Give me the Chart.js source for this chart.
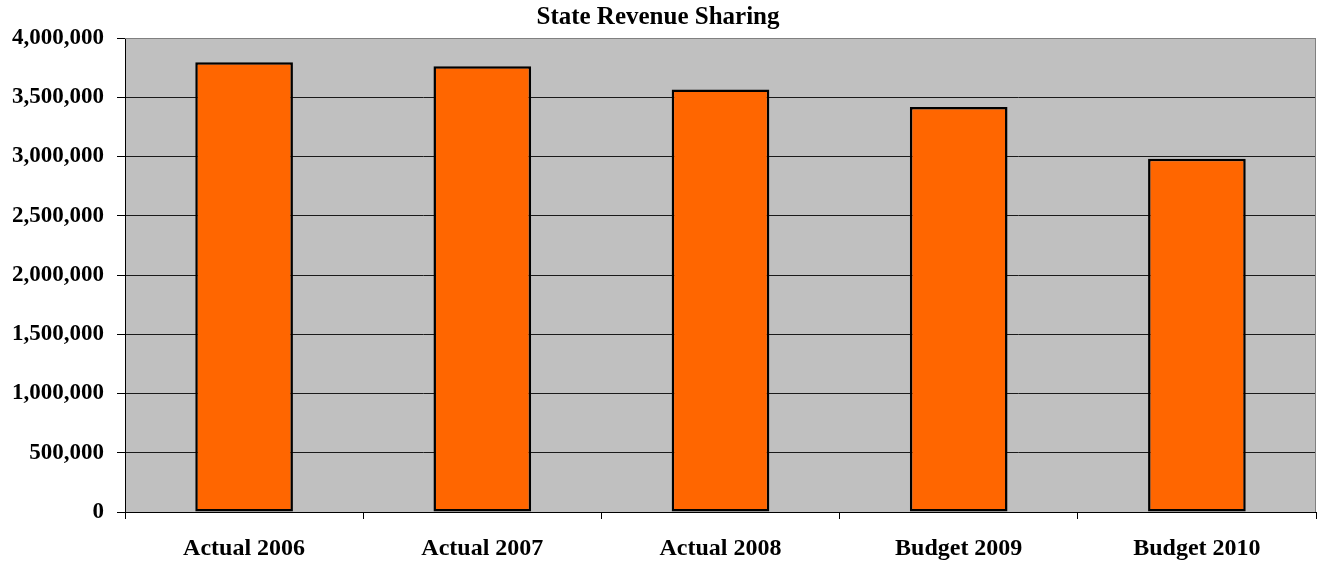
<!DOCTYPE html>
<html>
<head>
<meta charset="utf-8">
<script src="https://cdn.jsdelivr.net/npm/chart.js@4"></script>
<style>
  html, body { margin: 0; padding: 0; background: #fff; }
  #wrap { width: 1317px; height: 563px; }
</style>
</head>
<body>
<div id="wrap"><canvas id="chart" width="1317" height="563"></canvas></div>
<script>
const categories = ["Actual 2006", "Actual 2007", "Actual 2008", "Budget 2009", "Budget 2010"];
const revenue = [3795000, 3761000, 3565000, 3418000, 2981000];
const yTicks = [0, 500000, 1000000, 1500000, 2000000, 2500000, 3000000, 3500000, 4000000];

const FONT = "'Liberation Serif', 'Times New Roman', serif";

// grey plot area with a grey frame on top and right
const plotBg = {
  id: "plotBg",
  beforeDraw(chart) {
    const { ctx, chartArea: a } = chart;
    ctx.save();
    ctx.fillStyle = "#c0c0c0";
    ctx.fillRect(a.left, a.top, a.right - a.left, a.bottom - a.top);
    ctx.restore();
  },
  afterDatasetsDraw(chart) {
    const { ctx, chartArea: a } = chart;
    ctx.save();
    ctx.strokeStyle = "#808080";
    ctx.lineWidth = 1;
    ctx.beginPath();
    ctx.moveTo(a.left, a.top + 0.5);
    ctx.lineTo(a.right - 0.5, a.top + 0.5);
    ctx.lineTo(a.right - 0.5, a.bottom);
    ctx.stroke();
    ctx.restore();
  }
};

new Chart(document.getElementById("chart"), {
  type: "bar",
  data: {
    labels: categories,
    datasets: [{
      data: revenue,
      backgroundColor: "#ff6600",
      borderColor: "#000",
      borderWidth: 2.5,
      borderSkipped: false,
      categoryPercentage: 1,
      barPercentage: 0.41
    }]
  },
  options: {
    responsive: false,
    animation: false,
    layout: { padding: { left: 0, right: 1, top: 0, bottom: 0 } },
    plugins: {
      legend: { display: false },
      tooltip: { enabled: false },
      title: {
        display: true,
        text: "State Revenue Sharing",
        color: "#000",
        font: { family: FONT, size: 25, weight: "bold", lineHeight: 1.2 },
        padding: { top: 3, bottom: 5 }
      }
    },
    scales: {
      x: {
        grid: { drawOnChartArea: false, drawTicks: true, tickLength: 7, color: "#000" },
        border: { display: true, color: "#000", width: 1 },
        ticks: { color: "#000", padding: 15, maxRotation: 0, font: { family: FONT, size: 24, weight: "bold" } },
        afterFit(scale) { scale.height = 51; }
      },
      y: {
        min: 0,
        max: 4000000,
        afterBuildTicks(scale) { scale.ticks = yTicks.map(v => ({ value: v })); },
        grid: {
          color: ctx => (ctx.tick && ctx.tick.value === 4000000 ? "#808080" : "#1a1a1a"),
          lineWidth: 1,
          tickLength: 8,
          tickColor: "#000"
        },
        border: { display: true, color: "#000", width: 1 },
        ticks: {
          color: "#000",
          padding: 13,
          font: { family: FONT, size: 23, weight: "bold" },
          callback: v => v.toLocaleString("en-US")
        },
        afterFit(scale) { scale.width = 125; }
      }
    }
  },
  plugins: [plotBg]
});
</script>
</body>
</html>
